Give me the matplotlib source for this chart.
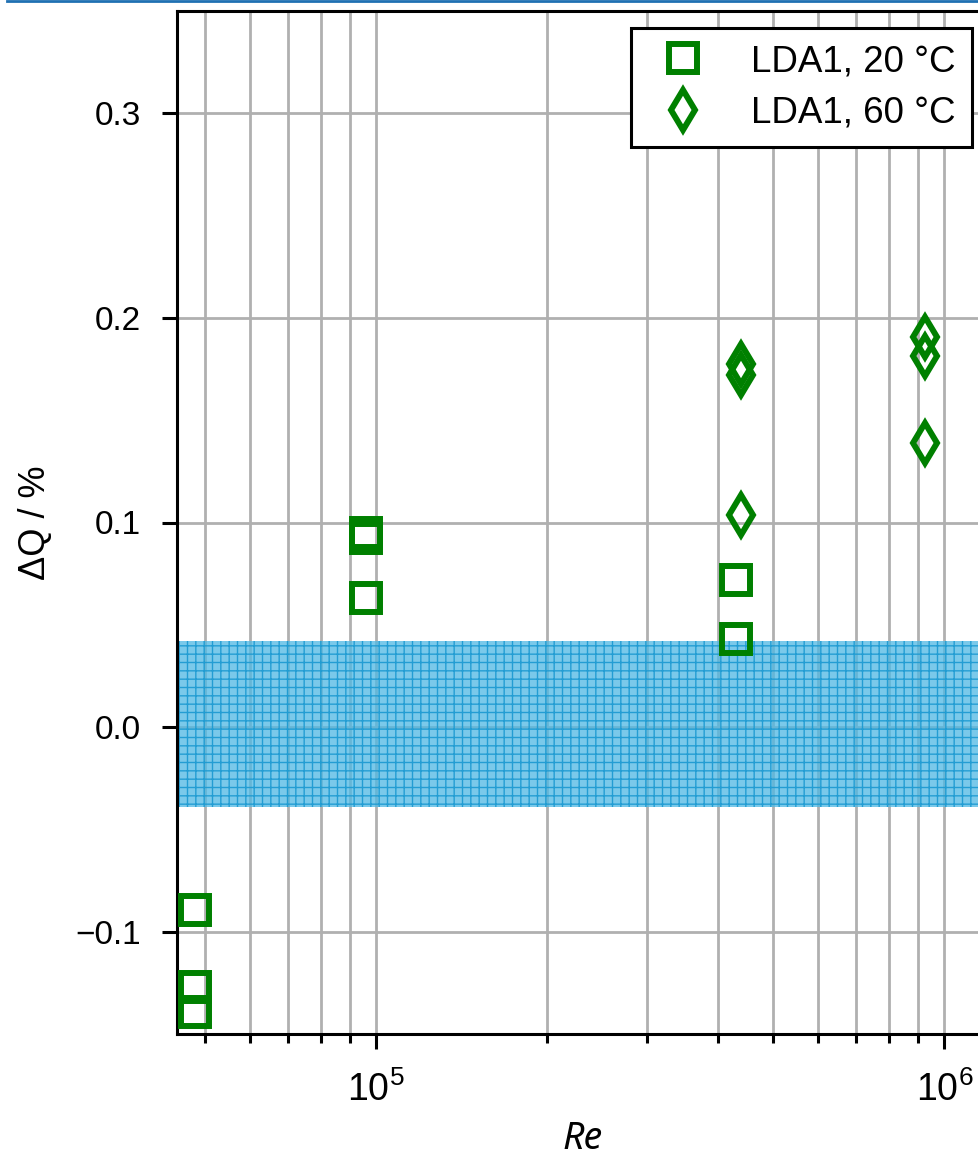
import numpy as np
import matplotlib
matplotlib.use("Agg")
import matplotlib.pyplot as plt
from matplotlib.lines import Line2D
from matplotlib.ticker import NullFormatter

plt.rcParams['font.family'] = ['Liberation Sans', 'DejaVu Sans']
plt.rcParams['mathtext.fontset'] = 'custom'
plt.rcParams['mathtext.rm'] = 'Liberation Sans'
plt.rcParams['mathtext.it'] = 'Liberation Sans:italic'
plt.rcParams['hatch.linewidth'] = 1.0

# --- data ---
re_20 = [48100, 48100, 48100, 96000, 96000, 96000, 430000, 430000]
dq_20 = [-0.0893, -0.127, -0.1393, 0.0947, 0.0923, 0.0631, 0.0719, 0.0429]
re_60 = [438700, 438700, 438700, 924000, 924000, 924000]
dq_60 = [0.1772, 0.1721, 0.1037, 0.1906, 0.1815, 0.139]
band_lo, band_hi = -0.039, 0.042
xlim = (44650, 1.198e6)
ylim = (-0.15, 0.35)
yticks = [-0.1, 0.0, 0.1, 0.2, 0.3]
labels = ['LDA1, 20 °C', 'LDA1, 60 °C']

W, H = 979, 1162
fig = plt.figure(figsize=(W / 100, H / 100), dpi=100)
ax = fig.add_axes([176.7 / W, (H - 1034.3) / H, 812.3 / W, 1023.6 / H])

ax.set_xscale('log')
ax.set_xlim(*xlim)
ax.set_ylim(*ylim)
ax.set_yticks(yticks)
ax.xaxis.set_minor_formatter(NullFormatter())

ax.grid(True, which='both', axis='x', color='#b0b0b0', lw=2.0)
ax.grid(True, which='major', axis='y', color='#b0b0b0', lw=2.0)
ax.set_axisbelow(True)

ax.axhspan(band_lo, band_hi, facecolor=(0.30, 0.72, 0.89, 0.75),
           edgecolor=(0.10, 0.60, 0.82, 0.9), hatch='++', lw=0, zorder=1.5)

mk = dict(ls='none', ms=20, mew=4.3, mfc='none', mec='green', color='green', zorder=3)
ax.plot(re_20, dq_20, marker='s', label=labels[0], **mk)
ax.plot(re_60, dq_60, marker='d', label=labels[1], **mk)

for s in ax.spines.values():
    s.set_linewidth(2.2)
ax.tick_params(axis='both', which='major', length=11, width=2.2)
ax.tick_params(axis='y', which='major', pad=15, labelsize=24)
ax.tick_params(axis='x', which='major', pad=16, labelsize=27)
ax.tick_params(axis='x', which='minor', length=6.5, width=2.2)

ax.set_xlabel('Re', fontsize=27, family=['Noto Sans', 'Open Sans', 'DejaVu Sans'],
              style='italic', va='baseline')
ax.xaxis.set_label_coords(0.5, -(1149 - 1034.3) / 1023.6)
ax.set_ylabel('ΔQ / %', fontsize=26)
ax.yaxis.set_label_coords(-0.152, 0.5)

leg = ax.legend(loc='upper right', fontsize=26.5, fancybox=False, framealpha=1,
                edgecolor='black', borderaxespad=0.46, handletextpad=0.89,
                borderpad=0.45, labelspacing=0.45, handlelength=1.92)
leg.get_frame().set_linewidth(2.2)

fig.add_artist(Line2D([7 / W, 1.0], [1 - 1.3 / H, 1 - 1.3 / H],
                      transform=fig.transFigure, color='#1f70b2', lw=2.0))

fig.savefig('out.png', dpi=100)
